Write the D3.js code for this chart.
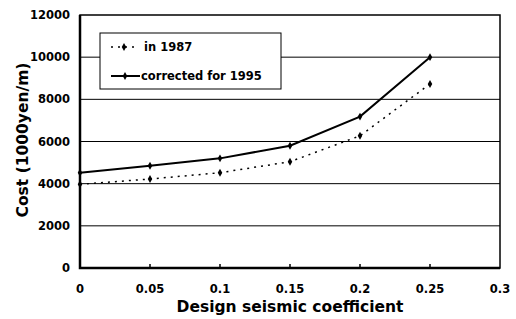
<!DOCTYPE html>
<style>
body { margin: 0; background: #fff; }
svg { display: block; font-family: "DejaVu Sans", sans-serif; font-weight: bold; }
</style>
<script src="https://d3js.org/d3.v7.min.js"></script>
<svg width="516" height="319"></svg>
<script>
var coeffs = [0, 0.05, 0.1, 0.15, 0.2, 0.25];
var cost1987 = [3970, 4220, 4520, 5040, 6270, 8730];
var cost1995 = [4520, 4850, 5200, 5800, 7180, 10000];
var xTicks = [0, 0.05, 0.1, 0.15, 0.2, 0.25, 0.3];
var yTicks = [0, 2000, 4000, 6000, 8000, 10000, 12000];
var seriesNames = ["in 1987", "corrected for 1995"];

var svg = d3.select("svg");
var pL = 80, pR = 500, pT = 15, pB = 268;

var x = d3.scaleLinear().domain([0, 0.3]).range([pL, pR]);
var y = d3.scaleLinear().domain([0, 12000]).range([pB, pT]);

// gridlines
svg.selectAll(".grid").data(yTicks.slice(1, -1)).enter().append("line")
  .attr("x1", pL).attr("x2", pR)
  .attr("y1", function(d) { return y(d); }).attr("y2", function(d) { return y(d); })
  .attr("stroke", "#000").attr("stroke-width", 1);

// frame
svg.append("rect").attr("x", pL).attr("y", pT)
  .attr("width", pR - pL).attr("height", pB - pT)
  .attr("fill", "none").attr("stroke", "#000").attr("stroke-width", 1.5);
svg.append("path").attr("d", "M" + pL + "," + pT + "V" + pB + "H" + pR)
  .attr("fill", "none").attr("stroke", "#000").attr("stroke-width", 2.5);

// x ticks inside
svg.selectAll(".xt").data(xTicks.slice(1, -1)).enter().append("line")
  .attr("x1", function(d) { return x(d); }).attr("x2", function(d) { return x(d); })
  .attr("y1", pB).attr("y2", pB - 4)
  .attr("stroke", "#000").attr("stroke-width", 1.5);

svg.selectAll(".xl").data(xTicks).enter().append("text")
  .attr("x", function(d) { return x(d); }).attr("y", pB + 25)
  .attr("text-anchor", "middle").attr("font-size", 11.5)
  .text(function(d) { return d; });

svg.selectAll(".yl").data(yTicks).enter().append("text")
  .attr("x", pL - 10).attr("y", function(d) { return y(d) + 4; })
  .attr("text-anchor", "end").attr("font-size", 11.5)
  .text(function(d) { return d; });

svg.append("text").attr("x", x(0.15)).attr("y", 312)
  .attr("text-anchor", "middle").attr("font-size", 15.5)
  .text("Design seismic coefficient");

svg.append("text").attr("transform", "translate(28," + 140 + ") rotate(-90)")
  .attr("text-anchor", "middle").attr("font-size", 15.5)
  .text("Cost (1000yen/m)");

var line = d3.line()
  .x(function(d, i) { return x(coeffs[i]); })
  .y(function(d) { return y(d); });

svg.append("path").datum(cost1987).attr("d", line)
  .attr("fill", "none").attr("stroke", "#000").attr("stroke-width", 1.5)
  .attr("stroke-dasharray", "2,5");
svg.append("path").datum(cost1995).attr("d", line)
  .attr("fill", "none").attr("stroke", "#000").attr("stroke-width", 2);

var diamond = d3.symbol().type(d3.symbolDiamond).size(18);
[cost1987, cost1995].forEach(function(s) {
  svg.selectAll(null).data(s).enter().append("path")
    .attr("d", diamond)
    .attr("transform", function(d, i) { return "translate(" + x(coeffs[i]) + "," + y(d) + ")"; })
    .attr("fill", "#000");
});

// legend
var lg = svg.append("g");
lg.append("rect").attr("x", 100).attr("y", 33).attr("width", 181).attr("height", 56)
  .attr("fill", "#fff").attr("stroke", "#000").attr("stroke-width", 1);
var ly = [47, 76];
lg.append("line").attr("x1", 111).attr("x2", 138).attr("y1", ly[0]).attr("y2", ly[0])
  .attr("stroke", "#000").attr("stroke-width", 1.5).attr("stroke-dasharray", "2,5");
lg.append("path").attr("d", diamond).attr("transform", "translate(124," + ly[0] + ")");
lg.append("line").attr("x1", 111).attr("x2", 140).attr("y1", ly[1]).attr("y2", ly[1])
  .attr("stroke", "#000").attr("stroke-width", 2);
lg.append("path").attr("d", diamond).attr("transform", "translate(125," + ly[1] + ")");
lg.selectAll(".lt").data(seriesNames).enter().append("text")
  .attr("x", function(d, i) { return i ? 141 : 144; })
  .attr("y", function(d, i) { return ly[i] + 4; })
  .attr("font-size", 11.5).text(function(d) { return d; });
</script>
